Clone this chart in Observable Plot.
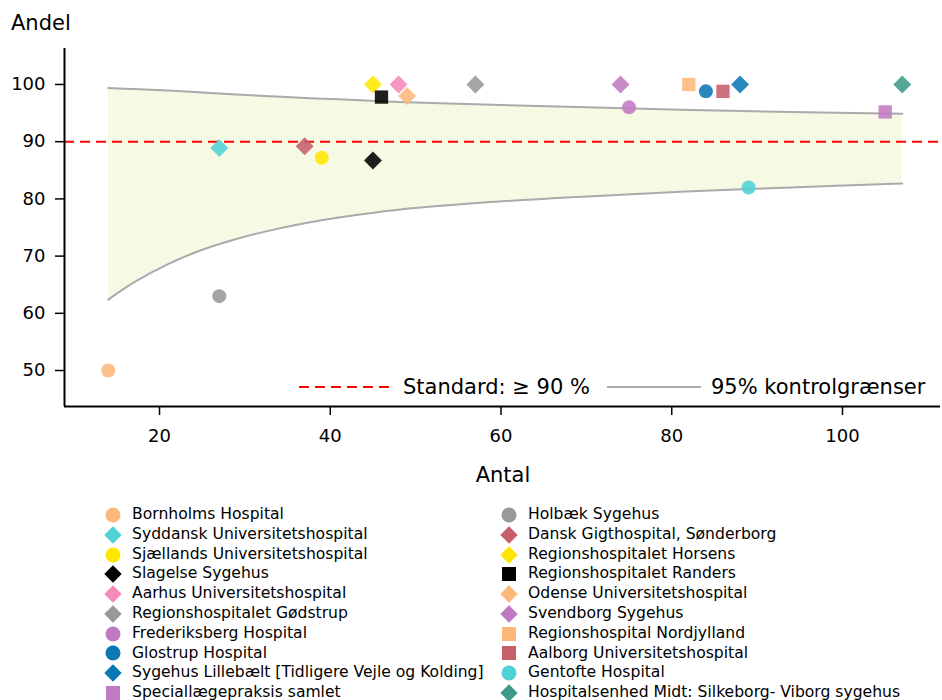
<!DOCTYPE html>
<html><head><meta charset="utf-8">
<script src="https://cdn.jsdelivr.net/npm/d3@7"></script>
<script src="https://cdn.jsdelivr.net/npm/@observablehq/plot@0.6"></script>
<style>
body{margin:0;background:#fff;font-family:"DejaVu Sans",sans-serif;color:#000;}
#chart{width:942px;height:700px;position:relative;overflow:hidden;}
#legend{display:grid;grid-template-columns:396px 420px;padding-left:103px;padding-top:5px;font-size:15.6px;line-height:19.8px;}
#legend .item{display:flex;align-items:center;height:19.8px;white-space:nowrap;}
#legend svg{flex:none;margin-right:9px;overflow:visible;}
</style></head><body><div id="chart"></div><script>
// ---- data ----
const hospitals = ["Bornholms Hospital","Holbæk Sygehus","Syddansk Universitetshospital","Dansk Gigthospital, Sønderborg","Sjællands Universitetshospital","Regionshospitalet Horsens","Slagelse Sygehus","Regionshospitalet Randers","Aarhus Universitetshospital","Odense Universitetshospital","Regionshospitalet Gødstrup","Svendborg Sygehus","Frederiksberg Hospital","Regionshospital Nordjylland","Glostrup Hospital","Aalborg Universitetshospital","Sygehus Lillebælt [Tidligere Vejle og Kolding]","Gentofte Hospital","Speciallægepraksis samlet","Hospitalsenhed Midt: Silkeborg- Viborg sygehus"];
const antal = [14,27,27,37,39,45,45,46,48,49,57,74,75,82,84,86,88,89,105,107];
const andel = [50.0,63.0,88.9,89.2,87.2,100,86.7,97.8,100,98.0,100,100,96.0,100,98.8,98.8,100,82.0,95.2,100];
const standard = 90;
const ciN    = [14,17,21,25,29,33,37,41,48,58,69,81,94,107];
const ciLow  = [62.4,65.4,68.6,71.1,73.0,74.5,75.75,76.75,78.1,79.35,80.35,81.25,82.0,82.7];
const ciHigh = [99.4,99.2,98.95,98.6,98.25,97.95,97.65,97.4,96.95,96.5,96.05,95.6,95.2,94.9];
const xTicks = [20,40,60,80,100];
const yTicks = [50,60,70,80,90,100];

// ---- styles ----
const C = {orange:"#fcb77b",grey:"#999999",turq:"#50d2d6",red:"#c75f6b",yellow:"#ffe600",black:"#000000",pink:"#f58ab8",purple:"#c07ac2",blue:"#0a78b4",teal:"#3e9b8a"};
const markerStyle = {
 "Bornholms Hospital":[C.orange,"circle"],
 "Holbæk Sygehus":[C.grey,"circle"],
 "Syddansk Universitetshospital":[C.turq,"diamond"],
 "Dansk Gigthospital, Sønderborg":[C.red,"diamond"],
 "Sjællands Universitetshospital":[C.yellow,"circle"],
 "Regionshospitalet Horsens":[C.yellow,"diamond"],
 "Slagelse Sygehus":[C.black,"diamond"],
 "Regionshospitalet Randers":[C.black,"square"],
 "Aarhus Universitetshospital":[C.pink,"diamond"],
 "Odense Universitetshospital":[C.orange,"diamond"],
 "Regionshospitalet Gødstrup":[C.grey,"diamond"],
 "Svendborg Sygehus":[C.purple,"diamond"],
 "Frederiksberg Hospital":[C.purple,"circle"],
 "Regionshospital Nordjylland":[C.orange,"square"],
 "Glostrup Hospital":[C.blue,"circle"],
 "Aalborg Universitetshospital":[C.red,"square"],
 "Sygehus Lillebælt [Tidligere Vejle og Kolding]":[C.blue,"diamond"],
 "Gentofte Hospital":[C.turq,"circle"],
 "Speciallægepraksis samlet":[C.purple,"square"],
 "Hospitalsenhed Midt: Silkeborg- Viborg sygehus":[C.teal,"diamond"]
};
const symbols = {
 circle:{draw(ctx,size){const r=Math.sqrt(size/Math.PI);ctx.moveTo(r,0);ctx.arc(0,0,r,0,2*Math.PI);}},
 square:{draw(ctx,size){const s=Math.sqrt(size/Math.PI)*0.95;ctx.rect(-s,-s,2*s,2*s);}},
 diamond:{draw(ctx,size){const h=Math.sqrt(size/Math.PI)*1.28;ctx.moveTo(0,-h);ctx.lineTo(h,0);ctx.lineTo(0,h);ctx.lineTo(-h,0);ctx.closePath();}}
};

const rows = hospitals.map((h,i)=>({h, n:antal[i], p:andel[i]}));
const ci = ciN.map((n,i)=>({n, lo:ciLow[i], hi:ciHigh[i]}));

const dotMarks = rows.map(r => Plot.dot([r], {x:"n", y:"p", r:7, symbol: symbols[markerStyle[r.h][1]], fill: markerStyle[r.h][0], fillOpacity:0.88, stroke:"none"}));

const xMin = 8.87, xMax = 111.48, yMin = 43.71, yMax = 106.29;
const plot = Plot.plot({
  width: 942, height: 500,
  marginLeft: 64, marginRight: 2, marginTop: 48, marginBottom: 94,
  style: {fontFamily:"DejaVu Sans", fontSize:"18px", color:"#000", background:"#fff"},
  x: {domain:[xMin,xMax]},
  y: {domain:[yMin,yMax]},
  marks: [
    Plot.areaY(ci, {x:"n", y1:"lo", y2:"hi", fill:"#f6f9e4", curve:"catmull-rom"}),
    Plot.line(ci, {x:"n", y:"hi", stroke:"#aaaaaa", strokeWidth:2, curve:"catmull-rom"}),
    Plot.line(ci, {x:"n", y:"lo", stroke:"#aaaaaa", strokeWidth:2, curve:"catmull-rom"}),
    Plot.ruleY([standard], {stroke:"#ff0000", strokeWidth:2, strokeDasharray:"10,6"}),
    ...dotMarks,
    Plot.ruleX([xMin], {stroke:"#000", strokeWidth:2}),
    Plot.ruleY([yMin], {stroke:"#000", strokeWidth:2}),
    Plot.axisX({ticks:xTicks, tickSize:9, tickPadding:14, label:null, strokeWidth:1.5, fontSize:18}),
    Plot.axisY({ticks:yTicks, tickSize:9, tickPadding:10, label:null, strokeWidth:1.5, fontSize:18})
  ]
});
document.getElementById("chart").appendChild(plot);

// axis titles and inner legend
const svg = d3.select(plot);
svg.append("text").attr("x",11).attr("y",30).attr("text-anchor","start").attr("font-size",21).attr("fill","#000").text("Andel");
svg.append("text").attr("x",503).attr("y",482).attr("text-anchor","middle").attr("font-size",21).attr("fill","#000").text("Antal");
const lg = svg.append("g").attr("font-size",21).attr("fill","#000").attr("text-anchor","start");
lg.append("line").attr("x1",299).attr("x2",389).attr("y1",387).attr("y2",387).attr("stroke","#ff0000").attr("stroke-width",2).attr("stroke-dasharray","10,6");
lg.append("text").attr("x",403).attr("y",394).attr("text-anchor","start").text("Standard: ≥ 90 %");
lg.append("line").attr("x1",607).attr("x2",701).attr("y1",387).attr("y2",387).attr("stroke","#aaaaaa").attr("stroke-width",2);
lg.append("text").attr("x",711).attr("y",394).attr("text-anchor","start").text("95% kontrolgrænser");

// bottom legend
const legend = d3.select("#chart").append("div").attr("id","legend");
hospitals.forEach(h => {
  const [col, shp] = markerStyle[h];
  const it = legend.append("div").attr("class","item");
  const s = it.append("svg").attr("width",20).attr("height",20);
  const rr = shp==="circle" ? 7.5 : shp==="square" ? 7.4 : 6.8;
  s.append("path").attr("transform","translate(10,10)").attr("fill",col)
    .attr("d", d3.symbol(symbols[shp], Math.PI*rr*rr)());
  it.append("span").text(h);
});
</script></body></html>
